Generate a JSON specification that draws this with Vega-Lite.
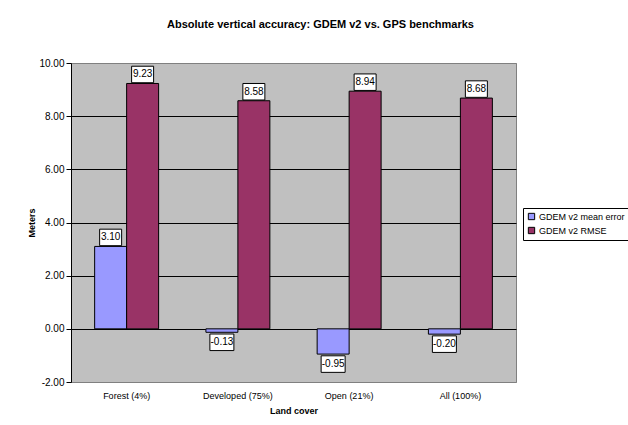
{
  "$schema": "https://vega.github.io/schema/vega-lite/v6.json",
  "width": 445,
  "height": 319,
  "autosize": {"type": "none"},
  "padding": {"left": 71, "top": 63, "right": 112, "bottom": 43},
  "background": "white",
  "title": {
    "text": "Absolute vertical accuracy: GDEM v2 vs. GPS benchmarks",
    "font": "Liberation Sans",
    "fontSize": 11,
    "fontWeight": "bold",
    "color": "black",
    "offset": 28,
    "dx": 27,
    "anchor": "middle"
  },
  "data": {
    "values": [
      {"cover": "Forest (4%)", "series": "GDEM v2 mean error", "value": 3.10},
      {"cover": "Forest (4%)", "series": "GDEM v2 RMSE", "value": 9.23},
      {"cover": "Developed (75%)", "series": "GDEM v2 mean error", "value": -0.13},
      {"cover": "Developed (75%)", "series": "GDEM v2 RMSE", "value": 8.58},
      {"cover": "Open (21%)", "series": "GDEM v2 mean error", "value": -0.95},
      {"cover": "Open (21%)", "series": "GDEM v2 RMSE", "value": 8.94},
      {"cover": "All (100%)", "series": "GDEM v2 mean error", "value": -0.20},
      {"cover": "All (100%)", "series": "GDEM v2 RMSE", "value": 8.68}
    ]
  },
  "encoding": {
    "x": {
      "field": "cover",
      "type": "nominal",
      "sort": null,
      "title": "Land cover",
      "scale": {"paddingInner": 0.425, "paddingOuter": 0.2125},
      "axis": {
        "labelAngle": 0,
        "ticks": false,
        "domain": false,
        "labelFont": "Liberation Sans",
        "labelFontSize": 9,
        "labelColor": "black",
        "labelPadding": 9,
        "titleFont": "Liberation Sans",
        "titleFontSize": 9,
        "titleFontWeight": "bold",
        "titleColor": "black",
        "titlePadding": 6
      }
    },
    "xOffset": {
      "field": "series",
      "type": "nominal",
      "sort": null,
      "scale": {"paddingInner": 0, "paddingOuter": 0}
    },
    "y": {
      "field": "value",
      "type": "quantitative",
      "title": "Meters",
      "scale": {"domain": [-2, 10], "nice": false},
      "axis": {
        "values": [-2, 0, 2, 4, 6, 8, 10],
        "format": ".2f",
        "grid": true,
        "gridColor": {"condition": {"test": "datum.value == -2 || datum.value == 10", "value": "#808080"}, "value": "black"},
        "gridOpacity": 1,
        "gridWidth": 1,
        "tickColor": "black",
        "tickSize": 5,
        "domainColor": "black",
        "labelFont": "Liberation Sans",
        "labelFontSize": 10,
        "labelColor": "black",
        "labelPadding": 2,
        "titleFont": "Liberation Sans",
        "titleFontSize": 9,
        "titleFontWeight": "bold",
        "titleColor": "black",
        "titlePadding": 2
      }
    }
  },
  "layer": [
    {
      "mark": {"type": "bar", "stroke": "black", "strokeWidth": 1},
      "encoding": {
        "color": {
          "field": "series",
          "type": "nominal",
          "sort": null,
          "scale": {"domain": ["GDEM v2 mean error", "GDEM v2 RMSE"], "range": ["#9999FF", "#993366"]},
          "legend": {
            "orient": "none",
            "legendX": 452,
            "legendY": 145,
            "title": null,
            "strokeColor": "black",
            "fillColor": "white",
            "padding": 4,
            "symbolType": "square",
            "symbolSize": 40,
            "symbolStrokeColor": "black",
            "symbolStrokeWidth": 1,
            "labelFont": "Liberation Sans",
            "labelFontSize": 9,
            "labelColor": "black",
            "labelOffset": 3,
            "rowPadding": 3
          }
        }
      }
    },
    {
      "transform": [{"filter": "datum.value >= 0"}],
      "mark": {"type": "point", "shape": "M-1,-0.75H1V0.75H-1Z", "size": 484, "filled": true, "fill": "white", "stroke": "black", "strokeWidth": 1, "opacity": 1, "yOffset": -9}
    },
    {
      "transform": [{"filter": "datum.value < 0"}],
      "mark": {"type": "point", "shape": "M-1,-0.69H1V0.69H-1Z", "size": 576, "filled": true, "fill": "white", "stroke": "black", "strokeWidth": 1, "opacity": 1, "yOffset": 10}
    },
    {
      "transform": [{"filter": "datum.value >= 0"}],
      "mark": {"type": "text", "font": "Liberation Sans", "fontSize": 10, "color": "black", "baseline": "middle", "align": "center", "yOffset": -9},
      "encoding": {"text": {"field": "value", "type": "quantitative", "format": ".2f"}}
    },
    {
      "transform": [{"filter": "datum.value < 0"}],
      "mark": {"type": "text", "font": "Liberation Sans", "fontSize": 10, "color": "black", "baseline": "middle", "align": "center", "yOffset": 10},
      "encoding": {"text": {"field": "value", "type": "quantitative", "format": ".2f"}}
    }
  ],
  "config": {
    "locale": {
      "number": {
        "decimal": ".",
        "thousands": ",",
        "grouping": [3],
        "currency": ["$", ""],
        "minus": "-"
      }
    },
    "view": {"fill": "#C0C0C0", "stroke": "#808080"}
  }
}
